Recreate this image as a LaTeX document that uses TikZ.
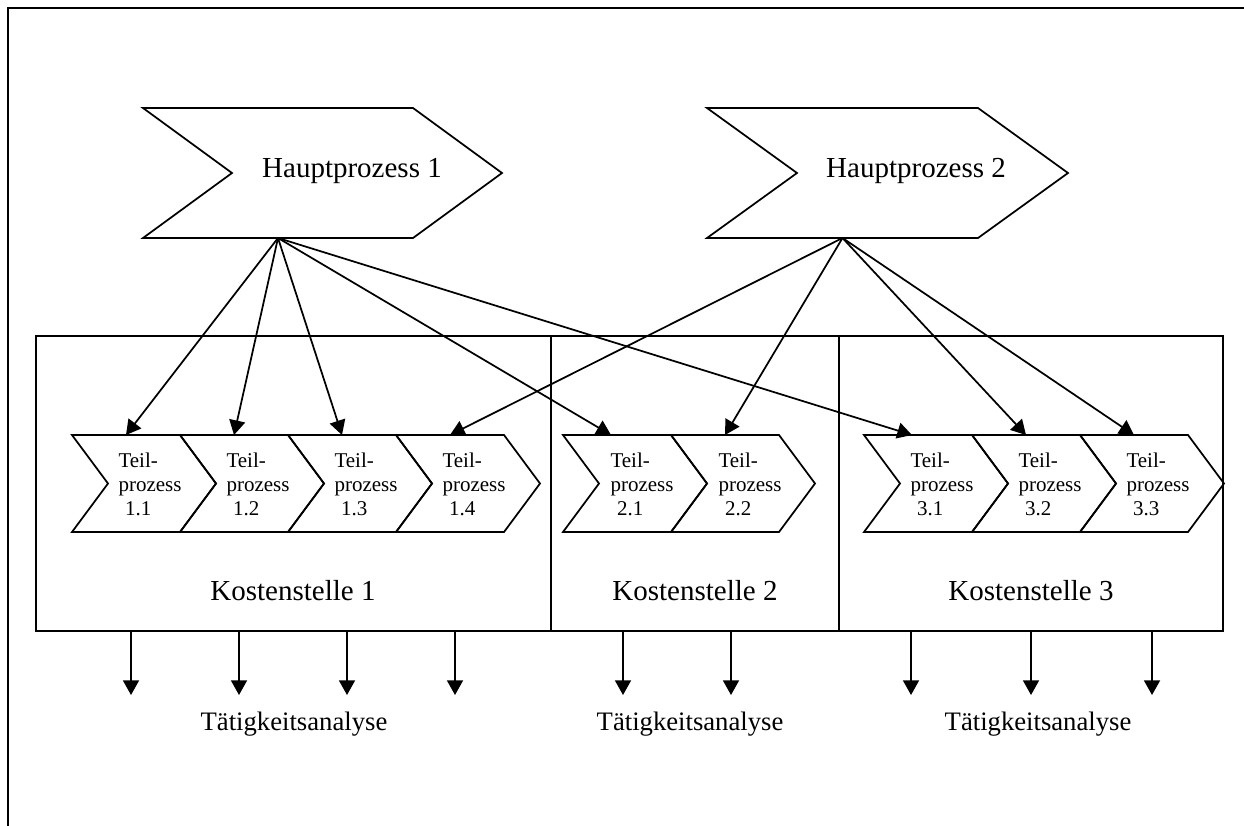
\documentclass[tikz,border=0pt]{standalone}
\usepackage{fontspec}
\setmainfont{Liberation Serif}
\usetikzlibrary{arrows.meta,fit}
\newcommand\mkchev[7]{%
  \draw[chevline] (#2,#3) -- ++(#4,0) -- ++(#6,#5/2) -- ++(-#6,#5/2) -- ++(-#4,0) -- ++(#6,-#5/2) -- cycle;
  \coordinate (#1-n) at ({#2+#4/2},#3);
  \coordinate (#1-s) at ({#2+#4/2},{#3+#5});
  \node[#7] (#1) at ({#2+#4/2},{#3+#5/2}) {};
}
\tikzset{
  chevline/.style={line width=1.3pt, line join=miter},
  anchorpt/.style={inner sep=0pt, minimum size=0pt},
  box/.style={draw, line width=1.3pt, inner sep=0pt},
  arr/.style={line width=1.3pt, -{Triangle[width=12pt,length=11pt]}},
  bigtext/.style={font=\fontsize{21.75}{26}\selectfont, inner sep=0pt, anchor=base},
  smalltext/.style={font=\fontsize{15.75}{18}\selectfont, inner sep=0pt, align=left, anchor=center},
  anatext/.style={font=\fontsize{20}{24}\selectfont, inner sep=0pt, anchor=base},
  frame/.style={line width=2pt}
}
\begin{document}
\begin{tikzpicture}[x=0.75pt,y=-0.75pt]
\useasboundingbox (0,0) rectangle (1244,825);
% outer frame (partly outside the page)
\draw[frame] (8,826) -- (8,8) -- (1245,8);

% cost centre boxes
\node[box, fit={(36,336) (551,631)}] (ks1) {};
\node[box, fit={(551,336) (839,631)}] (ks2) {};
\node[box, fit={(839,336) (1223,631)}] (ks3) {};

% main processes
\mkchev{hp1}{143}{108}{270}{130}{89}{anchorpt}
\mkchev{hp2}{707}{108}{271}{130}{90}{anchorpt}
\node[bigtext] (hp1t) at (352,177) {Hauptprozess 1};
\node[bigtext] (hp2t) at (916,177) {Hauptprozess 2};

% sub processes
\mkchev{c11}{72}{435}{108}{97}{36}{anchorpt}
\mkchev{c12}{180}{435}{108}{97}{36}{anchorpt}
\mkchev{c13}{288}{435}{108}{97}{36}{anchorpt}
\mkchev{c14}{396}{435}{108}{97}{36}{anchorpt}
\mkchev{c21}{563}{435}{108}{97}{36}{anchorpt}
\mkchev{c22}{671}{435}{108}{97}{36}{anchorpt}
\mkchev{c31}{864}{435}{108}{97}{36}{anchorpt}
\mkchev{c32}{972}{435}{108}{97}{36}{anchorpt}
\mkchev{c33}{1080}{435}{108}{97}{36}{anchorpt}

\node[smalltext] (t11) at (150,484) {Teil-\\prozess\\\hspace*{5pt}1.1};
\node[smalltext] (t12) at (258,484) {Teil-\\prozess\\\hspace*{5pt}1.2};
\node[smalltext] (t13) at (366,484) {Teil-\\prozess\\\hspace*{5pt}1.3};
\node[smalltext] (t14) at (474,484) {Teil-\\prozess\\\hspace*{5pt}1.4};
\node[smalltext] (t21) at (642,484) {Teil-\\prozess\\\hspace*{5pt}2.1};
\node[smalltext] (t22) at (750,484) {Teil-\\prozess\\\hspace*{5pt}2.2};
\node[smalltext] (t31) at (942,484) {Teil-\\prozess\\\hspace*{5pt}3.1};
\node[smalltext] (t32) at (1050,484) {Teil-\\prozess\\\hspace*{5pt}3.2};
\node[smalltext] (t33) at (1158,484) {Teil-\\prozess\\\hspace*{5pt}3.3};

% cost centre labels
\node[bigtext] (k1) at (293,600) {Kostenstelle 1};
\node[bigtext] (k2) at (695,600) {Kostenstelle 2};
\node[bigtext] (k3) at (1031,600) {Kostenstelle 3};

% arrows from main processes
\draw[arr] (hp1-s) -- (c11-n);
\draw[arr] (hp1-s) -- (c12-n);
\draw[arr] (hp1-s) -- (c13-n);
\draw[arr] (hp1-s) -- ([xshift=-4.5pt]c21-n);
\draw[arr] (hp1-s) -- ([xshift=-4.5pt]c31-n);
\draw[arr] (hp2-s) -- (c14-n);
\draw[arr] (hp2-s) -- (c22-n);
\draw[arr] (hp2-s) -- (c32-n);
\draw[arr] (hp2-s) -- (c33-n);

% activity analysis arrows
\coordinate (e1) at (131,695);
\coordinate (e2) at (239,695);
\coordinate (e3) at (347,695);
\coordinate (e4) at (455,695);
\coordinate (e5) at (623,695);
\coordinate (e6) at (731,695);
\coordinate (e7) at (911,695);
\coordinate (e8) at (1031,695);
\coordinate (e9) at (1152,695);
\foreach \e/\k in {e1/ks1,e2/ks1,e3/ks1,e4/ks1,e5/ks2,e6/ks2,e7/ks3,e8/ks3,e9/ks3}
  \draw[arr] (\k.south -| \e) -- (\e);

\node[anatext] (a1) at (294,730) {Tätigkeitsanalyse};
\node[anatext] (a2) at (690,730) {Tätigkeitsanalyse};
\node[anatext] (a3) at (1038,730) {Tätigkeitsanalyse};
\end{tikzpicture}
\end{document}
